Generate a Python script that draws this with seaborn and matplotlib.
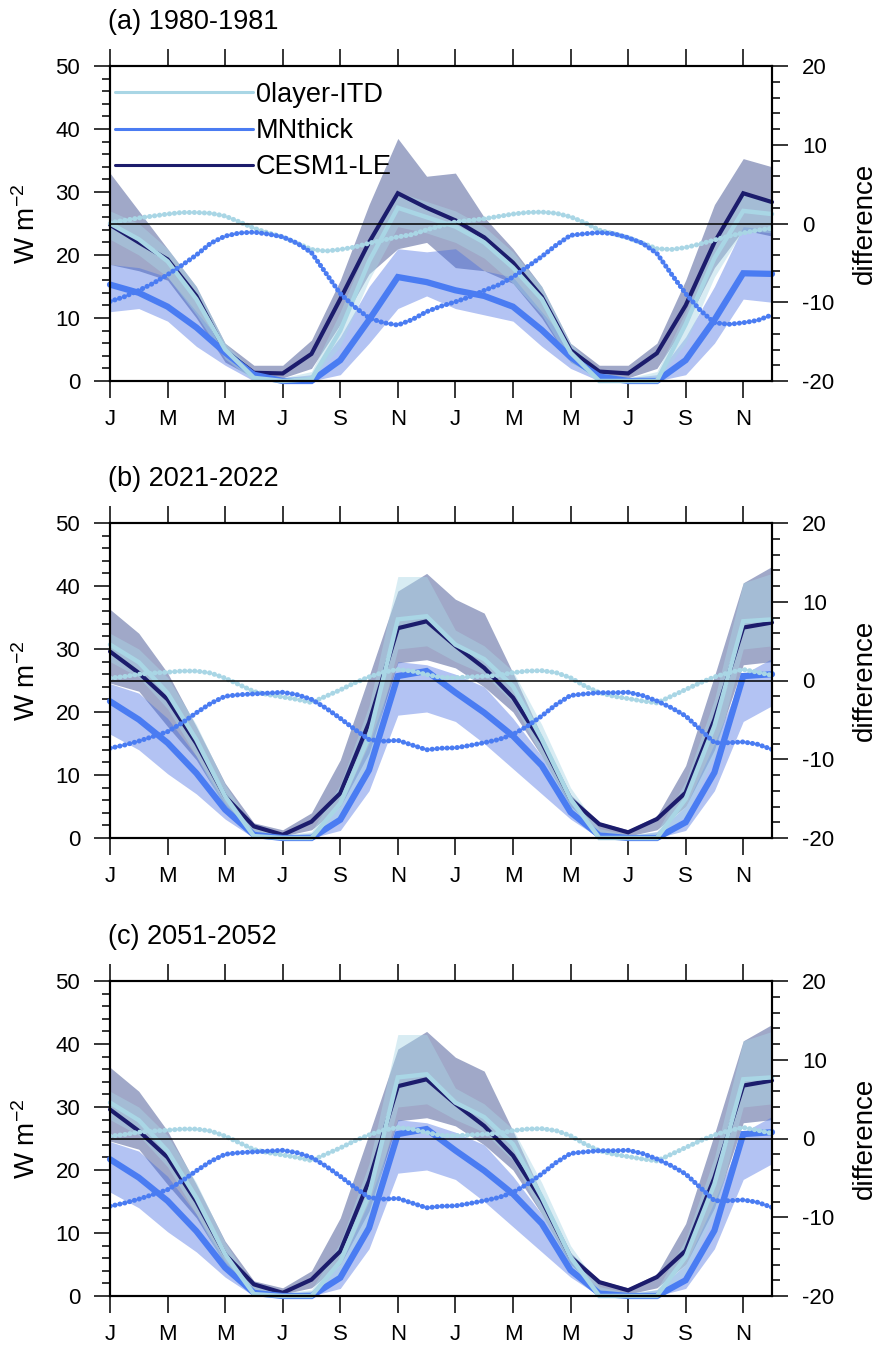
import matplotlib
matplotlib.use("Agg")
import matplotlib.pyplot as plt
from matplotlib.lines import Line2D
from matplotlib.ticker import MultipleLocator
import numpy as np
import pandas as pd
import seaborn as sns

# month labels (two years, one tick every other month)
MONTH_TICKS = ["J", "M", "M", "J", "S", "N", "J", "M", "M", "J", "S", "N"]
TITLES = ["(a) 1980-1981", "(b) 2021-2022", "(c) 2051-2052"]
SERIES = ["0layer-ITD", "MNthick", "CESM1-LE"]

# ---- panel (a) monthly means and ranges (W m-2) ----
A_ITD = [25, 22.5, 19, 13, 5, 0.5, 0, 0.3, 8, 19, 27.5, 26,
         24.5, 22, 18, 13, 4.5, 0, 0, 0, 9, 19.5, 27, 26.5]
A_ITD_HI = [27, 25, 21, 15, 6, 1.5, 0.5, 1.5, 11, 22, 30, 28.5,
            27, 24.5, 20.5, 15, 6, 1.5, 0.5, 1.5, 11, 22, 29.5, 29]
A_ITD_LO = [22.5, 20, 16.5, 10.5, 3.5, 0, 0, 0, 5.5, 16, 24.5, 23.5,
            22, 19.5, 15.5, 10.5, 3, 0, 0, 0, 6, 16.5, 24, 23.5]
A_MN = [15.3, 14, 11.8, 8.5, 4.5, 1, 0, 0, 3.3, 9.7, 16.5, 15.7,
        14.4, 13.5, 11.8, 8.1, 3.8, 0.7, 0, 0, 3.3, 9.7, 17.1, 17]
A_MN_HI = [18.5, 18, 16.5, 11, 5.5, 1.5, 0.5, 1, 7, 15, 21, 20.5,
           21, 17.5, 16.5, 11, 5.5, 1.5, 0.5, 1, 7, 15, 24.5, 24]
A_MN_LO = [11, 11.5, 9.5, 5.5, 2.5, 0, 0, 0, 1, 6, 11.5, 13.5,
           11.5, 10.5, 9.5, 5.5, 2, 0, 0, 0, 1, 6, 13, 12.5]
A_CESM = [24.8, 22, 19.3, 13.5, 4.8, 1.3, 1.2, 4.3, 13, 22, 29.8, 27.5,
          25.5, 22.8, 18.8, 13.4, 4.9, 1.5, 1.2, 4.4, 12, 22, 29.8, 28.4]
A_CESM_HI = [33, 27, 21, 15, 6, 2.5, 2.5, 6.5, 16, 28, 38.5, 32.5,
             33, 26, 21, 15, 6, 2.5, 2.5, 6, 16, 28, 35.3, 34]
A_CESM_LO = [18.5, 17.5, 16, 10, 3, 0.5, 0.5, 2, 9, 17, 21, 22,
             18, 17.5, 15.5, 10, 3, 0.5, 0.5, 2, 9, 18, 24, 23]
# half-monthly differences (right axis)
A_DIFF_ITD = [0.1, 0.4, 0.7, 0.95, 1.2, 1.4, 1.4, 1.3, 0.95, 0.2, -0.6, -1.2,
              -1.7, -2.5, -3.3, -3.5, -3.3, -3.0, -2.5, -2.1, -1.7, -1.4, -0.8, -0.3,
              0.2, 0.4, 0.6, 0.9, 1.2, 1.4, 1.45, 1.3, 0.85, 0.1, -0.85, -1.3,
              -1.8, -2.5, -3.2, -3.3, -3.05, -2.6, -2.1, -1.6, -1.2, -0.85, -0.6]
A_DIFF_MN = [-9.9, -9.3, -8.5, -7.6, -6.5, -5.3, -4.0, -2.5, -1.6, -1.2, -1.1, -1.35,
             -1.7, -2.5, -3.7, -6.3, -8.9, -10.6, -12.0, -12.6, -12.9, -12.2, -11.2, -10.5,
             -9.95, -9.3, -8.5, -7.8, -6.8, -5.5, -4.2, -2.75, -1.5, -1.3, -1.15, -1.3,
             -1.8, -2.5, -3.8, -6.4, -8.9, -11.0, -12.6, -12.8, -12.6, -12.3, -11.6]

# ---- panel (b) ----
B_ITD = [30.7, 27.9, 23, 15.6, 6.6, 0.3, 0, 0, 5.5, 16.1, 34.7, 35.2,
         30.7, 28.4, 24.1, 15.7, 6.2, 0, 0, 0, 6.2, 17.8, 34.4, 34.7]
B_ITD_HI = [32.5, 30, 25.5, 18, 8.5, 1.5, 0.5, 1, 8.5, 21, 41.5, 41.5,
            33, 30.5, 26.5, 18, 8, 1.5, 0.5, 1, 9, 22, 40.5, 42]
B_ITD_LO = [28, 25.5, 20.5, 13, 4.5, 0, 0, 0, 3, 12, 30, 30.5,
            28, 26, 21.5, 13, 4.5, 0, 0, 0, 3.5, 13, 30, 30.5]
B_MN = [21.7, 18.8, 15.1, 10.3, 4.5, 0.5, 0, 0, 2.9, 10.8, 25.7, 26.5,
        23.1, 19.9, 16.2, 11.5, 4.1, 0.4, 0, 0, 2.5, 10.4, 25.7, 26]
B_MN_HI = [24.5, 23, 19, 13, 5.5, 1, 0.3, 0.8, 5, 15, 28, 27.5,
           26, 24, 19, 13, 5.5, 1, 0.3, 1, 5, 15, 26, 28.5]
B_MN_LO = [16.5, 14, 10.2, 7, 3, 0, 0, 0, 1.2, 7.5, 19.5, 20,
           18.5, 15, 11, 7, 3, 0, 0, 0, 1.2, 7.5, 18.5, 21]
B_CESM = [29.6, 26.2, 22, 15, 6.6, 1.85, 0.5, 2.6, 7.1, 18.3, 33.3, 34.4,
          30.5, 27, 22.3, 15.2, 6.2, 2.2, 0.9, 3, 7.2, 18.8, 33.4, 34.2]
B_CESM_HI = [36.3, 32.5, 26.2, 17.7, 8.7, 2.4, 1.3, 4, 12.4, 25.7, 39.2, 42,
             37.9, 35.7, 26.2, 16.2, 6.9, 2.5, 1.3, 3.5, 11.5, 25.7, 40.5, 43.1]
B_CESM_LO = [24.6, 23.3, 17.7, 12.4, 5, 1, 0.3, 1.3, 5, 13.5, 27.8, 28.3,
             27, 24, 20, 13, 5, 1, 0.3, 1.3, 5, 14, 27.5, 28]
B_DIFF_ITD = [0.3, 0.5, 0.8, 0.95, 1.05, 1.2, 1.2, 0.95, 0.3, -0.55, -1.4, -1.8,
              -2.1, -2.4, -2.8, -2.0, -1.2, -0.3, 0.45, 1.05, 1.4, 1.2, 0.75, 0.4,
              0.35, 0.45, 0.55, 0.65, 1.0, 1.2, 1.25, 1.0, 0.35, -0.7, -1.55, -2.0,
              -2.3, -2.6, -2.85, -2.0, -1.15, -0.3, 0.45, 1.0, 1.4, 1.05, 0.65]
B_DIFF_MN = [-8.6, -8.2, -7.7, -7.1, -6.5, -5.4, -4.1, -2.9, -2.0, -1.8, -1.7, -1.6,
             -1.5, -1.8, -2.4, -3.5, -4.8, -6.2, -7.5, -7.7, -7.6, -8.2, -8.8, -8.6,
             -8.55, -8.25, -7.9, -7.5, -6.85, -5.8, -4.5, -3.05, -1.9, -1.7, -1.55, -1.55,
             -1.5, -1.9, -2.6, -3.45, -4.5, -6.2, -7.9, -7.9, -7.8, -8.1, -8.75]

# ---- panel (c): visually the same as (b) ----
C_ITD, C_ITD_HI, C_ITD_LO = list(B_ITD), list(B_ITD_HI), list(B_ITD_LO)
C_MN, C_MN_HI, C_MN_LO = list(B_MN), list(B_MN_HI), list(B_MN_LO)
C_CESM, C_CESM_HI, C_CESM_LO = list(B_CESM), list(B_CESM_HI), list(B_CESM_LO)
C_DIFF_ITD, C_DIFF_MN = list(B_DIFF_ITD), list(B_DIFF_MN)

PANELS = [
    dict(itd=(A_ITD, A_ITD_LO, A_ITD_HI), mn=(A_MN, A_MN_LO, A_MN_HI),
         cesm=(A_CESM, A_CESM_LO, A_CESM_HI), d_itd=A_DIFF_ITD, d_mn=A_DIFF_MN),
    dict(itd=(B_ITD, B_ITD_LO, B_ITD_HI), mn=(B_MN, B_MN_LO, B_MN_HI),
         cesm=(B_CESM, B_CESM_LO, B_CESM_HI), d_itd=B_DIFF_ITD, d_mn=B_DIFF_MN),
    dict(itd=(C_ITD, C_ITD_LO, C_ITD_HI), mn=(C_MN, C_MN_LO, C_MN_HI),
         cesm=(C_CESM, C_CESM_LO, C_CESM_HI), d_itd=C_DIFF_ITD, d_mn=C_DIFF_MN),
]

C_LIGHT = "#a9d6e5"
C_MID = "#4a7cf2"
C_MID_BAND = "#4169e1"
C_DARK = "#1c1c6c"
C_DARK_BAND = "#2c3e85"

sns.set_theme(style="ticks")
plt.rcParams["font.family"] = ["Liberation Sans", "DejaVu Sans"]
plt.rcParams["mathtext.fontset"] = "custom"
plt.rcParams["mathtext.rm"] = "Liberation Sans"
plt.rcParams["mathtext.it"] = "Liberation Sans"
plt.rcParams["axes.unicode_minus"] = False
plt.rcParams["text.color"] = "black"
plt.rcParams["axes.labelcolor"] = "black"
plt.rcParams["xtick.color"] = "black"
plt.rcParams["ytick.color"] = "black"

FIG_W, FIG_H = 880, 1349
AX_L, AX_R = 110, 772
AX_TOPS = [66, 523, 981]
AX_HEIGHT = 315

fig = plt.figure(figsize=(FIG_W / 100, FIG_H / 100), dpi=100)

months = np.arange(24)
half_months = np.arange(47) * 0.5


def draw_panel(ax, data, title, show_legend):
    ax2 = ax.twinx()

    # shaded ensemble ranges
    bands = [("cesm", C_DARK_BAND, 0.45), ("mn", C_MID_BAND, 0.40), ("itd", C_LIGHT, 0.45)]
    for key, color, alpha in bands:
        _, lo, hi = data[key]
        ax.fill_between(months, lo, hi, color=color, alpha=alpha, lw=0)

    long_df = pd.DataFrame({
        "month": np.tile(months, 3),
        "flux": data["cesm"][0] + data["mn"][0] + data["itd"][0],
        "run": np.repeat(["CESM1-LE", "MNthick", "0layer-ITD"], 24),
    })
    styles = {"CESM1-LE": (C_DARK, 3.0), "MNthick": (C_MID, 4.5), "0layer-ITD": (C_LIGHT, 3.2)}
    for run in ["CESM1-LE", "MNthick", "0layer-ITD"]:
        color, lw = styles[run]
        sns.lineplot(data=long_df[long_df["run"] == run], x="month", y="flux",
                     ax=ax, color=color, lw=lw, legend=False, clip_on=False,
                     solid_joinstyle="miter")

    # dotted difference curves on the right axis
    diff_df = pd.DataFrame({"t": half_months, "itd": data["d_itd"], "mn": data["d_mn"]})
    for col, color in [("itd", C_LIGHT), ("mn", C_MID)]:
        sns.lineplot(data=diff_df, x="t", y=col, ax=ax2, color=color, lw=3.6,
                     linestyle=(0, (0.05, 0.95)), dash_capstyle="round", legend=False)
    ax2.axhline(0, color="black", lw=1.1)

    ax.set_xlim(0, 23)
    ax.set_ylim(0, 50)
    ax2.set_ylim(-20, 20)
    ax.set_xticks(np.arange(0, 24, 2))
    ax.set_xticklabels(MONTH_TICKS)
    ax.yaxis.set_major_locator(MultipleLocator(10))
    ax.yaxis.set_minor_locator(MultipleLocator(2))
    ax2.yaxis.set_major_locator(MultipleLocator(10))
    ax2.yaxis.set_minor_locator(MultipleLocator(2))

    ax.tick_params(axis="x", which="major", direction="out", length=12, width=1.1,
                   top=True, labelsize=16, pad=8)
    ax.tick_params(axis="y", which="major", direction="out", length=11.5, width=1.1,
                   labelsize=16, pad=10)
    ax.tick_params(axis="y", which="minor", direction="out", length=5.8, width=1.1)
    ax2.tick_params(axis="y", which="major", direction="out", length=11.5, width=1.1,
                    labelsize=16, pad=10)
    ax2.tick_params(axis="y", which="minor", direction="out", length=5.8, width=1.1)
    for a in (ax, ax2):
        for s in a.spines.values():
            s.set_linewidth(1.5)
            s.set_color("black")
            s.set_visible(True)

    ax.set_xlabel("")
    ax.set_ylabel("W m$^{-2}$", fontsize=20)
    ax.yaxis.label.set_va("center")
    ax.yaxis.set_label_coords(-0.125, 0.5)
    ax2.set_ylabel("difference", fontsize=20)
    ax2.yaxis.label.set_va("center")
    ax2.yaxis.set_label_coords(1.14, 0.5)

    ax.text(-0.003, 1 + 44 / AX_HEIGHT, title, transform=ax.transAxes,
            ha="left", va="center", fontsize=19.5)

    if show_legend:
        handles = [Line2D([], [], color=c, lw=2.2) for c in (C_LIGHT, C_MID, C_DARK)]
        leg = ax.legend(handles, SERIES, loc="upper left", bbox_to_anchor=(0.0076, 0.95),
                        frameon=False, fontsize=19.5, handlelength=5.1,
                        handletextpad=0.1, borderpad=0, borderaxespad=0,
                        labelspacing=0.38)
        leg.set_zorder(10)


for top, data, title, i in zip(AX_TOPS, PANELS, TITLES, range(3)):
    bottom = FIG_H - (top + AX_HEIGHT)
    ax = fig.add_axes([AX_L / FIG_W, bottom / FIG_H, (AX_R - AX_L) / FIG_W, AX_HEIGHT / FIG_H])
    draw_panel(ax, data, title, i == 0)

fig.savefig("out.png", dpi=100)
